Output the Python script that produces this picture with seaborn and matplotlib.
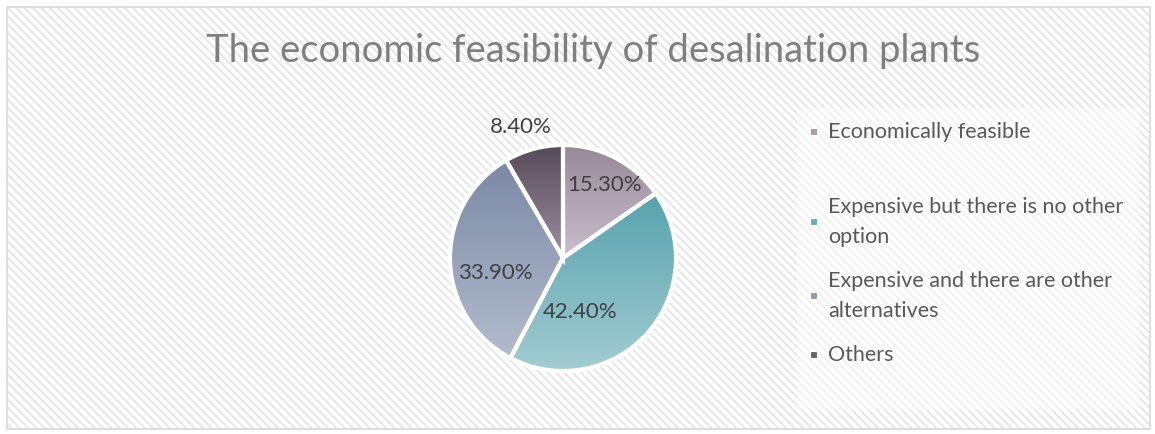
import numpy as np
import matplotlib
matplotlib.use("Agg")
import matplotlib.pyplot as plt
from matplotlib.patches import Rectangle
from matplotlib.colors import LinearSegmentedColormap
import seaborn as sns

sns.set_theme(style="white")
plt.rcParams["font.family"] = ["Lato", "DejaVu Sans"]
plt.rcParams["hatch.linewidth"] = 1.5

title = "The economic feasibility of desalination plants"
categories = [
    "Economically feasible",
    "Expensive but there is no other\noption",
    "Expensive and there are other\nalternatives",
    "Others",
]
shares = [15.3, 42.4, 33.9, 8.4]
label_texts = ["15.30%", "42.40%", "33.90%", "8.40%"]

# gradient end colours per slice (top -> bottom)
grad_top = ["#978898", "#57a2ad", "#7a89a6", "#564a5a"]
grad_bottom = ["#cbbfcc", "#a3ccd2", "#b3bccd", "#9d8e9f"]
legend_colors = ["#a898a8", "#6aaeb7", "#8e9bb5", "#6d5f70"]

W, H = 1155, 434
fig = plt.figure(figsize=(W / 100, H / 100), dpi=100)
fig.patch.set_facecolor("white")

# striped chart background with thin frame
bg = fig.add_axes([0, 0, 1, 1])
bg.set_xlim(0, W)
bg.set_ylim(H, 0)
bg.axis("off")
bg.add_patch(Rectangle((7, 7), 1143, 422, facecolor="white", edgecolor="#e8e8e8",
                       hatch="\\\\\\\\", linewidth=0, zorder=0))
bg.add_patch(Rectangle((7, 7), 1143, 422, facecolor="none", edgecolor="#d9d9d9",
                       linewidth=1.2, zorder=1))
# softened legend panel
bg.add_patch(Rectangle((797, 108), 343, 302, facecolor="white", alpha=0.45,
                       edgecolor="none", zorder=2))

# title
bg.text(593, 51, title, ha="center", va="center", fontsize=27.5, color="#7f7f7f", zorder=3)

# pie axes: centred at (563, 258) with radius 113 px
cx, cy, r = 563, 258, 113
ax = fig.add_axes([(cx - r) / W, (H - cy - r) / H, 2 * r / W, 2 * r / H])
ax.set_facecolor("none")
wedges, _ = ax.pie(shares, startangle=90, counterclock=False, radius=1,
                   wedgeprops=dict(edgecolor="white", linewidth=3))

grad = np.linspace(0, 1, 256).reshape(-1, 1)
for w, c0, c1 in zip(wedges, grad_top, grad_bottom):
    ext = w.get_path().get_extents()
    cmap = LinearSegmentedColormap.from_list("g", [c0, c1])
    im = ax.imshow(grad, cmap=cmap, aspect="auto", origin="upper",
                   extent=[ext.x0, ext.x1, ext.y0, ext.y1], zorder=1)
    im.set_clip_path(w)
    w.set_facecolor("none")
    w.set_zorder(2)
ax.set_xlim(-1.0, 1.0)
ax.set_ylim(-1.0, 1.0)
ax.set_aspect("equal")
ax.axis("off")

# data labels
label_pos = [(0.37, 0.65), (0.15, -0.48), (-0.60, -0.13), (-0.37, 1.16)]
for (x, y), t in zip(label_pos, label_texts):
    ax.text(x, y, t, ha="center", va="center", fontsize=16, color="#404040",
            zorder=5, clip_on=False)

# legend
legend_rows = [132, 222, 296, 355]
for yy, lab, col in zip(legend_rows, categories, legend_colors):
    bg.add_patch(Rectangle((810, yy - 4), 7, 7, facecolor=col, edgecolor="white",
                           linewidth=0.8, zorder=4))
    bg.text(828, yy, lab, ha="left", va="center", fontsize=15.5, color="#595959",
            linespacing=1.68, zorder=4)

fig.savefig("out.png", dpi=100)
